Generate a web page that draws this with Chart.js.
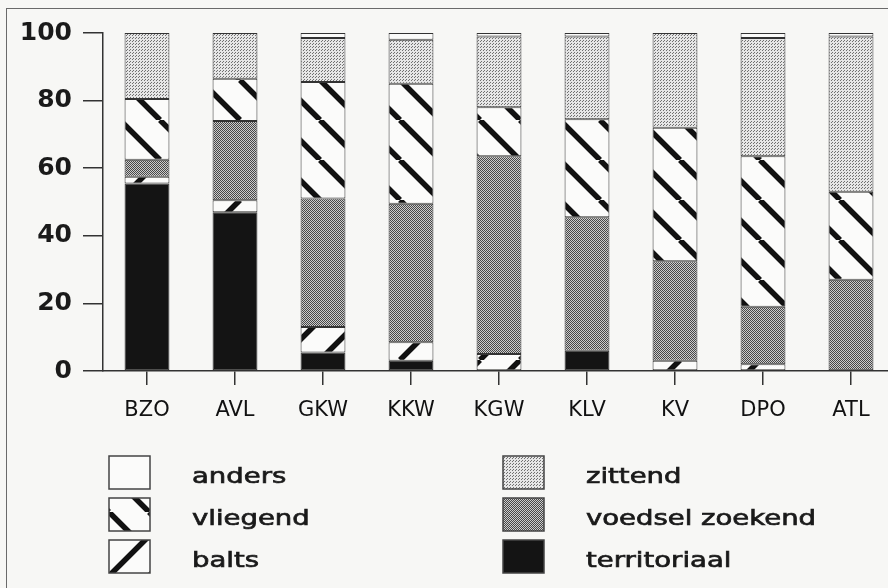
<!DOCTYPE html>
<html>
<head>
<meta charset="utf-8">
<script src="https://cdn.jsdelivr.net/npm/chart.js@4/dist/chart.umd.min.js"></script>
<style>
    html, body { margin: 0; padding: 0; overflow: hidden; background: #f7f7f5; }
    #frame { position: absolute; left: 6px; top: 8px; width: 1000px; height: 700px;
             border-left: 1.5px solid #6a6a6a; border-top: 1.5px solid #6a6a6a; }
    #wrap { position: absolute; left: 0; top: 0; width: 900px; height: 588px; }
</style>
</head>
<body>
<div id="frame"></div>
<div id="wrap"><canvas id="chart" width="900" height="588"></canvas></div>
<script>
// categories (locations)
const categories = ['BZO', 'AVL', 'GKW', 'KKW', 'KGW', 'KLV', 'KV', 'DPO', 'ATL'];

// percentages per behaviour, bottom of the stack first
const territoriaal   = [55.5, 47,   5.5,  3,    0,    6,    0,    0,    0];
const balts          = [2,    3.5,  7.5,  5.5,  5,    0,    3,    2,    0];
const voedselZoekend = [5,    23.5, 38,   41,   58.5, 39.5, 29.5, 17,   27];
const vliegend       = [18,   12.5, 34.5, 35.5, 14.5, 29,   39.5, 44.5, 26];
const zittend        = [19.5, 13.5, 13,   13,   21,   24.5, 28,   35,   46];
const anders         = [0,    0,    1.5,  2,    1,    1,    0,    1.5,  1];

const yTicks = [0, 20, 40, 60, 80, 100];

// --- fill patterns like the old b/w print ---
function dotPattern(bg, fg, size, dots) {
    const c = document.createElement('canvas');
    c.width = size; c.height = size;
    const g = c.getContext('2d');
    g.fillStyle = bg;
    g.fillRect(0, 0, size, size);
    g.fillStyle = fg;
    dots.forEach(d => g.fillRect(d[0], d[1], 1, 1));
    return g.createPattern(c, 'repeat');
}

function hatchPattern(dir) {
    const s = 40;
    const c = document.createElement('canvas');
    c.width = s; c.height = s;
    const g = c.getContext('2d');
    g.fillStyle = '#fbfbfa';
    g.fillRect(0, 0, s, s);
    g.strokeStyle = '#111';
    g.lineWidth = 5.5;
    g.beginPath();
    for (let k = -1; k <= 2; k++) {
        if (dir === 'back') { // "\"
            g.moveTo(k * s, 0);
            g.lineTo(k * s + s, s);
        } else {              // "/"
            g.moveTo(k * s, 0);
            g.lineTo(k * s - s, s);
        }
    }
    g.stroke();
    return g.createPattern(c, 'repeat');
}

const fills = {
    territoriaal: '#141414',
    balts: hatchPattern('fwd'),
    voedsel: dotPattern('#cccccc', '#474747', 2, [[0, 0], [1, 1]]),
    vliegend: hatchPattern('back'),
    zittend: dotPattern('#e6e6e6', '#707070', 3, [[1, 1], [0, 2]]),
    anders: '#fbfbfa'
};

function ds(label, values, fill) {
    return {
        label: label,
        data: values.map(v => v === 0 ? null : v),
        backgroundColor: fill,
        borderColor: '#333',
        borderWidth: 1,
        borderSkipped: false,
        barPercentage: 0.51,
        categoryPercentage: 1
    };
}

// legend drawn by hand: two columns of three, like the print
const legendItems = [
    { label: 'anders',          fill: 'anders',       col: 0, row: 0 },
    { label: 'vliegend',        fill: 'vliegend',     col: 0, row: 1 },
    { label: 'balts',           fill: 'balts',        col: 0, row: 2 },
    { label: 'zittend',         fill: 'zittend',      col: 1, row: 0 },
    { label: 'voedsel zoekend', fill: 'voedsel',      col: 1, row: 1 },
    { label: 'territoriaal',    fill: 'territoriaal', col: 1, row: 2 }
];

const handLegend = {
    id: 'handLegend',
    afterDraw(chart) {
        const ctx = chart.ctx;
        const boxX = [109, 503], textX = [192, 586];
        const rowY = [456, 498, 540];
        legendItems.forEach(item => {
            const x = boxX[item.col], y = rowY[item.row];
            ctx.save();
            // pattern origin shifted so the stripes sit like in the print
            let oy = 0;
            if (item.fill === 'vliegend') oy = 14;
            if (item.fill === 'balts') oy = 36;
            ctx.translate(x, y + oy);
            ctx.fillStyle = fills[item.fill];
            ctx.fillRect(0, -oy, 41, 33);
            ctx.strokeStyle = '#444';
            ctx.lineWidth = 1.5;
            ctx.strokeRect(0, -oy, 41, 33);
            ctx.restore();

            ctx.save();
            ctx.translate(textX[item.col], y + 27);
            ctx.scale(1.25, 1);
            ctx.fillStyle = '#1a1a1a';
            ctx.strokeStyle = '#1a1a1a';
            ctx.lineWidth = 0.7;
            ctx.font = '22px "DejaVu Sans"';
            ctx.textBaseline = 'alphabetic';
            ctx.fillText(item.label, 0, 0);
            ctx.strokeText(item.label, 0, 0);
            ctx.restore();
        });
    }
};

new Chart(document.getElementById('chart'), {
    type: 'bar',
    data: {
        labels: categories,
        datasets: [
            ds('territoriaal', territoriaal, fills.territoriaal),
            ds('balts', balts, fills.balts),
            ds('voedsel zoekend', voedselZoekend, fills.voedsel),
            ds('vliegend', vliegend, fills.vliegend),
            ds('zittend', zittend, fills.zittend),
            ds('anders', anders, fills.anders)
        ]
    },
    options: {
        responsive: false,
        animation: false,
        devicePixelRatio: 1,
        layout: { padding: { left: 0, top: 33, right: 5, bottom: 157 } },
        plugins: {
            legend: { display: false },
            tooltip: { enabled: false }
        },
        scales: {
            x: {
                stacked: true,
                offset: true,
                afterFit: s => { s.height = 60; },
                grid: { drawOnChartArea: false, offset: false, tickLength: 14, color: '#333', lineWidth: 1.5 },
                border: { display: true, color: '#333', width: 1.5 },
                ticks: { color: '#111', padding: 13, font: { family: 'DejaVu Sans', size: 21 } }
            },
            y: {
                stacked: true,
                min: 0,
                max: 100,
                afterFit: s => { s.width = 103; },
                afterBuildTicks: s => { s.ticks = yTicks.map(v => ({ value: v })); },
                grid: { drawOnChartArea: false, tickLength: 20, color: '#333', lineWidth: 1.5 },
                border: { display: true, color: '#333', width: 1.5 },
                ticks: { color: '#1a1a1a', padding: 11, font: { family: 'DejaVu Sans', size: 25, weight: 'bold' } }
            }
        }
    },
    plugins: [handLegend]
});
</script>
</body>
</html>
